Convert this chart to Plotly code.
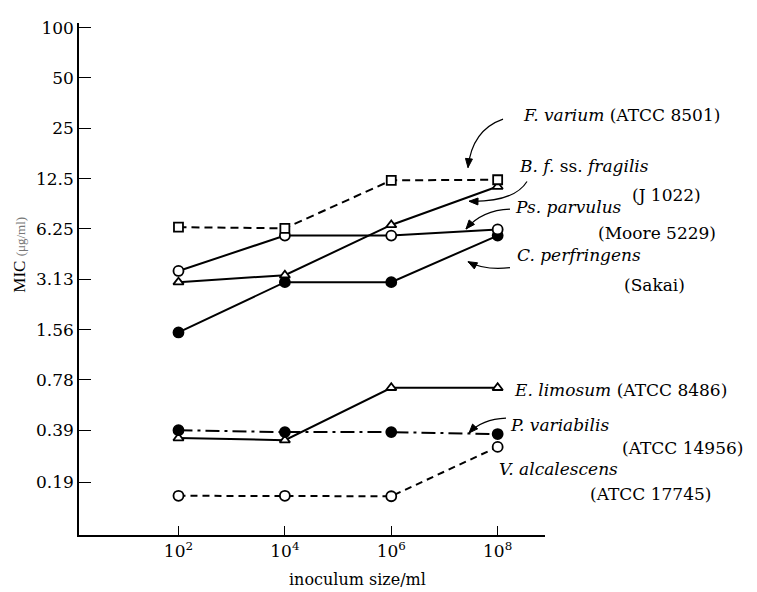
import math
import plotly.graph_objects as go

# ---------------- data ----------------
x_exp = [2, 4, 6, 8]
x_ticktext = ["10<sup>2</sup>", "10<sup>4</sup>", "10<sup>6</sup>", "10<sup>8</sup>"]

y_tickvals = [0.19, 0.39, 0.78, 1.56, 3.13, 6.25, 12.5, 25, 50, 100]
y_ticktext = ["0.19", "0.39", "0.78", "1.56", "3.13", "6.25", "12.5", "25", "50", "100"]

f_varium = [6.4, 6.3, 12.2, 12.3]
b_fragilis = [3.0, 3.3, 6.6, 11.2]
ps_parvulus = [3.5, 5.7, 5.7, 6.2]
c_perfringens = [1.5, 3.0, 3.0, 5.7]
e_limosum = [0.35, 0.34, 0.70, 0.70]
p_variabilis = [0.39, 0.38, 0.38, 0.37]
v_alcalescens = [0.158, 0.158, 0.157, 0.31]

FONT = "DejaVu Serif"
TFONT = "Liberation Serif"

# ---------------- layout helpers ----------------
# the page body adds an 8px offset; the plot area is placed so that it lands
# at reference pixels x 79..545, y 18..535
OFF = 8
L, R, T, B = 79, 545, 18, 535
W, H = 757, 592


def px(x):
    return (x - L) / (R - L)


def py(y):
    return (B - y) / (B - T)


fig = go.Figure()


def add_series(vals, symbol, filled, dash, name):
    fig.add_trace(go.Scatter(
        x=x_exp, y=vals, mode="lines+markers", name=name,
        line=dict(color="black", width=2, dash=dash),
        marker=dict(symbol=symbol, size=10 if "circle" in symbol else 9,
                    color="black" if filled else "white",
                    line=dict(color="black", width=1.8)),
        showlegend=False, cliponaxis=False,
    ))


add_series(v_alcalescens, "circle", False, "7px,5px", "V. alcalescens")
add_series(e_limosum, "triangle-up", False, "solid", "E. limosum")
add_series(p_variabilis, "circle", True, "14px,5px,3px,5px", "P. variabilis")
add_series(c_perfringens, "circle", True, "solid", "C. perfringens")
add_series(ps_parvulus, "circle", False, "solid", "Ps. parvulus")
add_series(b_fragilis, "triangle-up", False, "solid", "B. fragilis")
add_series(f_varium, "square", False, "8px,5px", "F. varium")

# ---------------- text labels ----------------
labels = [
    ("<i>F. varium</i> (ATCC 8501)", 521, 111),
    ("<i>B. f.</i> ss. <i>fragilis</i>", 517, 162),
    ("(J 1022)", 630, 192),
    ("<i>Ps. parvulus</i>", 513, 204),
    ("(Moore 5229)", 596, 230),
    ("<i>C. perfringens</i>", 515, 252),
    ("(Sakai)", 622, 283),
    ("<i>E. limosum</i> (ATCC 8486)", 512, 389),
    ("<i>P. variabilis</i>", 508, 424),
    ("(ATCC 14956)", 620, 447),
    ("<i>V. alcalescens</i>", 497, 468),
    ("(ATCC 17745)", 588, 494),
]
annotations = []
for txt, x, y in labels:
    annotations.append(dict(
        text=txt, x=px(x), y=py(y), xref="paper", yref="paper",
        xanchor="left", yanchor="middle", showarrow=False,
        font=dict(family=FONT, size=17, color="black"),
    ))

# axis titles
annotations.append(dict(
    text="MIC <span style='font-size:13px;color:#777'>(μg/ml)</span>",
    x=px(20), y=py(252), xref="paper", yref="paper", textangle=-90,
    xanchor="center", yanchor="middle", showarrow=False,
    font=dict(family=TFONT, size=17, color="black"),
))
annotations.append(dict(
    text="inoculum size/ml", x=px(357), y=py(580), xref="paper", yref="paper",
    xanchor="center", yanchor="middle", showarrow=False,
    font=dict(family=FONT, size=16, color="black"),
))

# ---------------- curved arrows ----------------
arrows = [
    ((503, 115), (472, 126), (468, 164)),
    ((527, 178), (514, 199), (469, 198)),
    ((510, 206), (482, 207), (466, 226)),
    ((510, 265), (485, 268), (468, 259)),
    ((506, 417), (482, 418), (469, 432)),
]
shapes = []
for (sx, sy), (cx, cy), (ex, ey) in arrows:
    shapes.append(dict(
        type="path", xref="paper", yref="paper",
        path=f"M {px(sx)},{py(sy)} Q {px(cx)},{py(cy)} {px(ex)},{py(ey)}",
        line=dict(color="black", width=1.2),
    ))
    d = math.hypot(cx - ex, cy - ey)
    ux, uy = (cx - ex) / d, (cy - ey) / d
    bx, by = ex + ux * 9, ey + uy * 9
    p1 = (bx - uy * 3.5, by + ux * 3.5)
    p2 = (bx + uy * 3.5, by - ux * 3.5)
    shapes.append(dict(
        type="path", xref="paper", yref="paper",
        path=(f"M {px(ex)},{py(ey)} L {px(p1[0])},{py(p1[1])} "
              f"L {px(p2[0])},{py(p2[1])} Z"),
        fillcolor="black", line=dict(color="black", width=1),
    ))

fig.update_layout(
    width=W, height=H,
    margin=dict(l=L - OFF, r=W - (R - OFF), t=T - OFF, b=H - (B - OFF)),
    paper_bgcolor="white", plot_bgcolor="white",
    font=dict(family=FONT, size=17, color="black"),
    annotations=annotations, shapes=shapes,
    xaxis=dict(
        range=[0.13, 8.89], tickmode="array", tickvals=x_exp, ticktext=x_ticktext,
        showgrid=False, zeroline=False, showline=True, linecolor="black", linewidth=1.5,
        ticks="inside", ticklen=9, tickwidth=1.3, tickcolor="black",
        tickfont=dict(family=FONT, size=17, color="black"),
    ),
    yaxis=dict(
        type="log", range=[-1.036, 2.028], tickmode="array",
        tickvals=y_tickvals, ticktext=y_ticktext,
        showgrid=False, zeroline=False, showline=True, linecolor="black", linewidth=1.5,
        ticks="inside", ticklen=12, tickwidth=1.3, tickcolor="black",
        tickfont=dict(family=FONT, size=17, color="black"),
    ),
)

fig.write_html("out.html")
